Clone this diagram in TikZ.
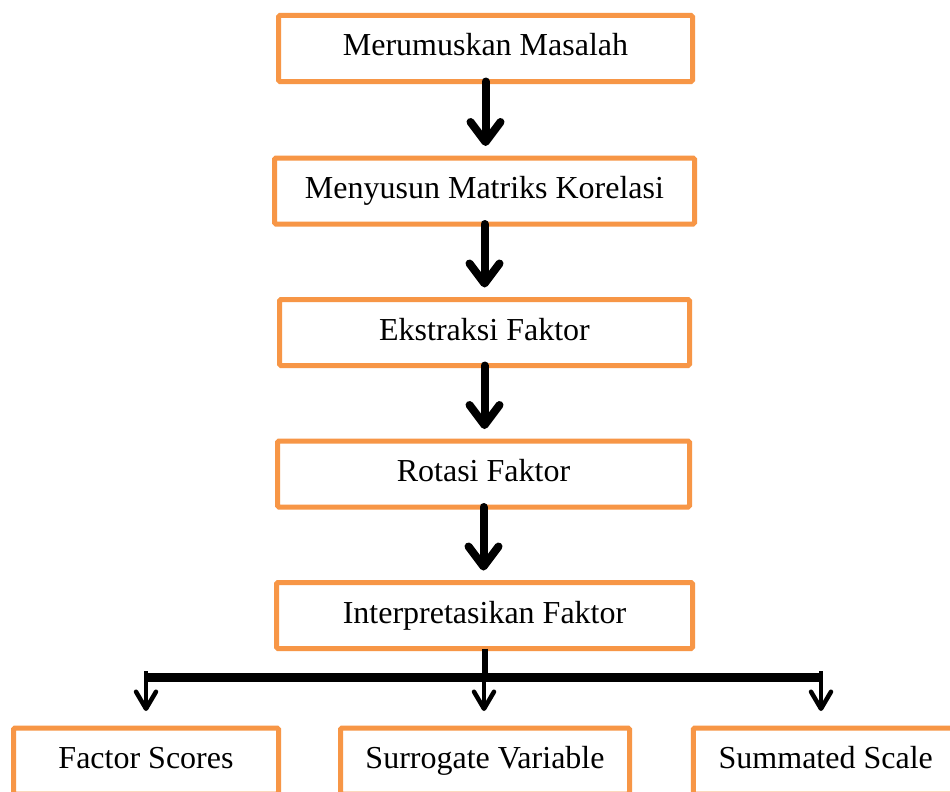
\documentclass[tikz,border=0pt]{standalone}
\usepackage{fontspec}
\setmainfont{Liberation Serif}
\usetikzlibrary{arrows.meta}
\definecolor{boxorange}{HTML}{F79646}
\begin{document}
\begin{tikzpicture}[x=1pt,y=-1pt,
  stepbox/.style={draw=boxorange, line width=5pt, rounded corners=1.5pt,
    minimum width=#1, minimum height=66pt, inner sep=0pt, outer sep=0pt,
    text height=22pt, text depth=7pt,
    font=\fontsize{32}{36}\selectfont},
  bigarrow/.style={line width=8pt, line cap=round, shorten >=12pt,
    -{Straight Barb[length=20pt,width=30pt,line cap=round,line join=round]}},
  smallarrow/.style={line width=4.5pt, shorten >=17pt,
    -{Straight Barb[length=17pt,width=20pt,line cap=round,line join=round]}}]
\useasboundingbox (0,0) rectangle (950,792);
\clip (0,0) rectangle (950,792);
\fill[white] (0,0) rectangle (950,792);
\node[stepbox=414pt] (b1) at (485.5,48.5) {Merumuskan Masalah};
\node[stepbox=420pt] (b2) at (484.5,191) {Menyusun Matriks Korelasi};
\node[stepbox=410pt] (b3) at (484.5,332.5) {Ekstraksi Faktor};
\node[stepbox=412pt] (b4) at (483.5,474) {Rotasi Faktor};
\node[stepbox=416pt] (b5) at (484.5,615.5) {Interpretasikan Faktor};
\node[stepbox=265pt] (fa) at (146,761) {Factor Scores};
\node[stepbox=289pt] (fb) at (485,761) {Surrogate Variable};
\node[stepbox=265pt] (fc) at (825.75,761) {Summated Scale};
\draw[bigarrow] (b1.south) -- (b1.south |- b2.north);
\draw[bigarrow] (b2.south) -- (b2.south |- b3.north);
\draw[bigarrow] (b3.south) -- (b3.south |- b4.north);
\draw[bigarrow] (b4.south) -- (b4.south |- b5.north);
\coordinate (barL) at (146,677);
\coordinate (barR) at (821,677);
\draw[line width=6pt] (b5.south) -- (b5.south |- barL);
\draw[line width=9pt] (barL) -- (barR);
\coordinate (sA) at (146,671);
\coordinate (sB) at (484,671);
\coordinate (sC) at (821,671);
\draw[smallarrow] (sA) -- (sA |- fa.north);
\draw[smallarrow] (sB) -- (sB |- fb.north);
\draw[smallarrow] (sC) -- (sC |- fc.north);
\end{tikzpicture}
\end{document}
